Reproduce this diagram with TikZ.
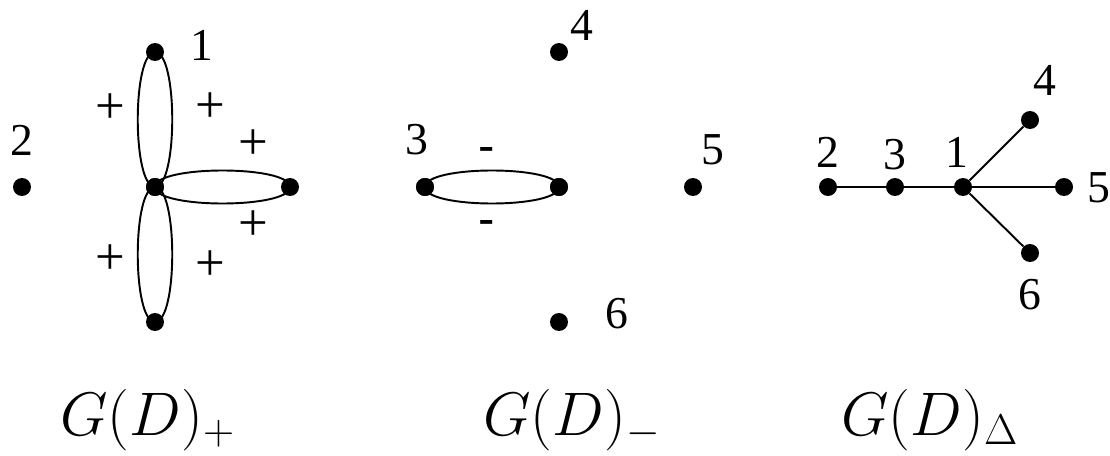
\RequirePackage{fix-cm}
\documentclass[tikz,border=0pt]{standalone}
\usepackage{fontspec}
\setmainfont{Liberation Serif}
\newfontfamily\signfont{Liberation Sans}

\tikzset{
  vtx/.style={circle,fill=black,inner sep=0pt,minimum size=0.36cm},
  num/.style={inner sep=0pt,font=\fontsize{26}{26}\selectfont},
  sgn/.style={inner sep=0pt,font=\fontsize{30}{30}\selectfont},
  neg/.style={inner sep=0pt,font=\signfont\fontsize{28}{28}\selectfont},
  glabel/.style={inner sep=0pt,anchor=base west,font=\fontsize{35}{40}\selectfont},
  lnk/.style={line width=1.1pt},
}

\begin{document}
\begin{tikzpicture}[x=0.02cm,y=-0.02cm]
\useasboundingbox (0,0) rectangle (1110,456);

% G(D)_+
\node[vtx] (a1) at (155,52) {};
\node[vtx] (a0) at (155,187) {};
\node[vtx] (a7) at (155,322) {};
\node[vtx] (a8) at (290,187) {};
\node[vtx] (a2) at (22,187) {};
\node[num] (la1) at (202,45) {1};
\node[num] (la2) at (22,140) {2};

\draw[lnk] (a0.center) .. controls +(23,0) and +(23,0) .. (a1.center)
           .. controls +(-23,0) and +(-23,0) .. (a0.center);
\draw[lnk] (a0.center) .. controls +(23,0) and +(23,0) .. (a7.center)
           .. controls +(-23,0) and +(-23,0) .. (a0.center);
\draw[lnk] (a0.center) .. controls +(0,22) and +(0,22) .. (a8.center)
           .. controls +(0,-22) and +(0,-22) .. (a0.center);
\node[vtx] at (a0) {};

\node[sgn] (s1) at (110,109) {+};
\node[sgn] (s2) at (210,108) {+};
\node[sgn] (s3) at (253,145) {+};
\node[sgn] (s4) at (253,226) {+};
\node[sgn] (s5) at (110,260) {+};
\node[sgn] (s6) at (210,266) {+};

% G(D)_-
\node[vtx] (b3) at (425,187) {};
\node[vtx] (b1) at (559,187) {};
\node[vtx] (b4) at (559,52) {};
\node[vtx] (b5) at (693,187) {};
\node[vtx] (b6) at (559,322) {};
\node[num] (lb3) at (417,140) {3};
\node[num] (lb4) at (582,25) {4};
\node[num] (lb5) at (713,150) {5};
\node[num] (lb6) at (617,314) {6};

\draw[lnk] (b3.center) .. controls +(0,22) and +(0,22) .. (b1.center)
           .. controls +(0,-22) and +(0,-22) .. (b3.center);
\node[vtx] at (b3) {};
\node[vtx] at (b1) {};

\node[neg] (m1) at (487,155) {-};
\node[neg] (m2) at (487,228) {-};

% G(D)_Delta
\node[vtx] (c2) at (828,187) {};
\node[vtx] (c3) at (895,187) {};
\node[vtx] (c1) at (963,187) {};
\node[vtx] (c4) at (1030,120) {};
\node[vtx] (c5) at (1064,187) {};
\node[vtx] (c6) at (1030,253) {};
\node[num] (lc2) at (828,152) {2};
\node[num] (lc3) at (895,155) {3};
\node[num] (lc1) at (957,152) {1};
\node[num] (lc4) at (1045,80) {4};
\node[num] (lc5) at (1099,188) {5};
\node[num] (lc6) at (1030,295) {6};

\draw[lnk] (c2) -- (c3) -- (c1) -- (c5);
\draw[lnk] (c1) -- (c4);
\draw[lnk] (c1) -- (c6);

% names
\node[glabel] (g1) at (60,435) {$G(D)_+$};
\node[glabel] (g2) at (483,435) {$G(D)_-$};
\node[glabel] (g3) at (841,435) {$G(D)_\Delta$};
\end{tikzpicture}
\end{document}
